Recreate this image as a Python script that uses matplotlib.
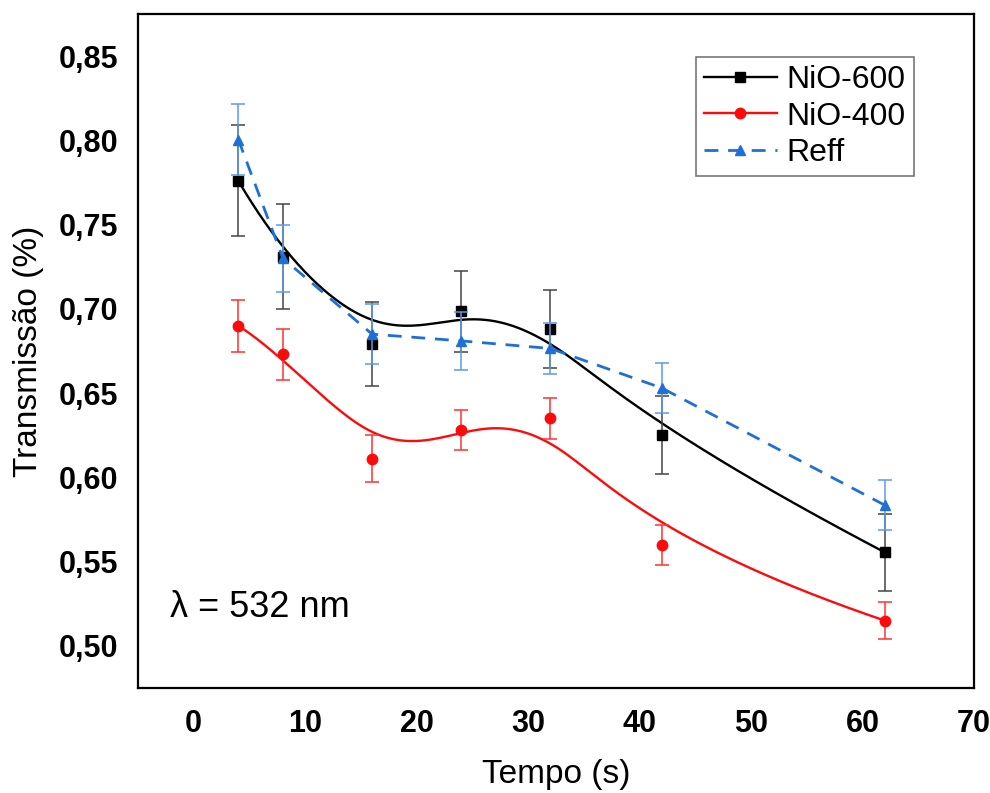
import numpy as np
import matplotlib
matplotlib.use("Agg")
import matplotlib.pyplot as plt
from matplotlib.lines import Line2D

plt.rcParams['font.family'] = ['Liberation Sans', 'DejaVu Sans']

# data
tempo = [4, 8, 16, 24, 32, 42, 62]

nio600 = [0.776, 0.731, 0.679, 0.6985, 0.688, 0.625, 0.5555]
nio600_err = [0.033, 0.031, 0.025, 0.024, 0.023, 0.023, 0.023]

nio400 = [0.690, 0.673, 0.611, 0.628, 0.635, 0.560, 0.515]
nio400_err = [0.0155, 0.015, 0.014, 0.012, 0.012, 0.012, 0.011]

reff = [0.8005, 0.730, 0.685, 0.681, 0.6765, 0.653, 0.5835]
reff_err = [0.021, 0.020, 0.018, 0.017, 0.015, 0.015, 0.015]

xticks = [0, 10, 20, 30, 40, 50, 60, 70]
yticks = [0.50, 0.55, 0.60, 0.65, 0.70, 0.75, 0.80, 0.85]


# B-spline (data points used as control points), like Origin's "B-Spline" line
def bspline(xc, yc, n=400, k=3):
    xc = np.asarray(xc, float)
    yc = np.asarray(yc, float)
    m = len(xc)
    t = np.r_[[0] * k, np.arange(m - k + 1), [m - k] * k].astype(float)
    u = np.linspace(0, m - k, n)
    N = np.zeros((n, len(t) - 1))
    for i in range(len(t) - 1):
        N[:, i] = (t[i] <= u) & (u < t[i + 1])
    N[-1, len(t) - k - 2] = 1
    for d in range(1, k + 1):
        newN = np.zeros((n, len(t) - 1 - d))
        for i in range(len(t) - 1 - d):
            a = 0
            b = 0
            if t[i + d] != t[i]:
                a = (u - t[i]) / (t[i + d] - t[i]) * N[:, i]
            if t[i + d + 1] != t[i + 1]:
                b = (t[i + d + 1] - u) / (t[i + d + 1] - t[i + 1]) * N[:, i + 1]
            newN[:, i] = a + b
        N = newN
    return N @ xc, N @ yc


black = "#000000"
red = "#ff0a0a"
blue = "#1f6fd8"

fig = plt.figure(figsize=(9.9, 7.93), dpi=100)
ax = fig.add_axes([138 / 990, 1 - 688 / 793, (974 - 138) / 990, (688 - 14) / 793])

# NiO-600
bx, by = bspline(tempo, nio600)
ax.plot(bx, by, color=black, lw=1.7, zorder=3)
ax.errorbar(tempo, nio600, yerr=nio600_err, fmt='s', color=black, ecolor="#444444",
            ms=6.5, elinewidth=1.1, capsize=4.7, capthick=1.1, zorder=4)

# NiO-400
rx, ry = bspline(tempo, nio400)
ax.plot(rx, ry, color=red, lw=1.7, zorder=3)
ax.errorbar(tempo, nio400, yerr=nio400_err, fmt='o', color=red, ecolor="#ff3030",
            ms=7.5, elinewidth=1.1, capsize=4.7, capthick=1.1, zorder=4)

# Reff (straight dashed segments)
ax.plot(tempo, reff, color=blue, lw=2, ls=(0, (5, 3.5)), zorder=5)
ax.errorbar(tempo, reff, yerr=reff_err, fmt='^', color=blue, ecolor="#5b9be6",
            ms=7.5, elinewidth=1.1, capsize=4.7, capthick=1.1, zorder=6)

ax.set_xlim(-5, 70)
ax.set_ylim(0.475, 0.875)
ax.set_xticks(xticks)
ax.set_yticks(yticks)
ax.set_yticklabels([f"{v:.2f}".replace(".", ",") for v in yticks])
ax.tick_params(length=0, labelsize=22)
ax.tick_params(axis='x', pad=15)
ax.tick_params(axis='y', pad=14)
for lab in ax.get_xticklabels() + ax.get_yticklabels():
    lab.set_fontweight('bold')
for s in ax.spines.values():
    s.set_linewidth(1.6)

ax.set_xlabel("Tempo (s)", fontsize=24)
ax.xaxis.set_label_coords(0.5, -0.105)
ax.set_ylabel("Transmissão (%)", fontsize=24)
ax.yaxis.set_label_coords(-0.112, 0.5)

ax.text(0.038, 0.12, "λ = 532 nm", transform=ax.transAxes, fontsize=26, va='center')

handles = [
    Line2D([], [], color=black, lw=1.7, marker='s', ms=6.5),
    Line2D([], [], color=red, lw=1.7, marker='o', ms=7.5),
    Line2D([], [], color=blue, lw=2, ls=(0, (5, 3.5)), marker='^', ms=7.5),
]
leg = ax.legend(handles, ["NiO-600", "NiO-400", "Reff"], loc='upper right',
                bbox_to_anchor=(0.928, 0.936), borderaxespad=0, fontsize=23,
                frameon=True, fancybox=False, edgecolor="#555555", handlelength=2.3,
                handletextpad=0.3, borderpad=0.25, labelspacing=0.2, numpoints=1)
leg.get_frame().set_linewidth(1.2)

fig.savefig("out.png", dpi=100)
